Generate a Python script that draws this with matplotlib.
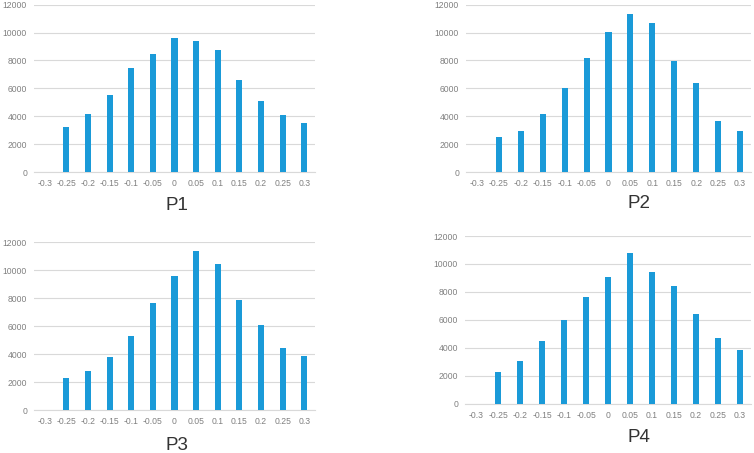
import matplotlib
matplotlib.use("Agg")
import matplotlib.pyplot as plt

plt.rcParams['font.family'] = ['Liberation Sans', 'DejaVu Sans']

categories = ["-0.3", "-0.25", "-0.2", "-0.15", "-0.1", "-0.05", "0", "0.05", "0.1", "0.15", "0.2", "0.25", "0.3"]
p1 = [0, 3250, 4150, 5550, 7480, 8480, 9630, 9370, 8740, 6590, 5110, 4090, 3540]
p2 = [0, 2490, 2940, 4130, 6040, 8190, 10040, 11350, 10660, 7930, 6350, 3660, 2940]
p3 = [0, 2320, 2820, 3820, 5320, 7660, 9610, 11350, 10470, 7870, 6060, 4460, 3840]
p4 = [0, 2240, 3050, 4480, 5960, 7660, 9090, 10800, 9420, 8420, 6390, 4700, 3820]
titles = ["P1", "P2", "P3", "P4"]
yticks = [0, 2000, 4000, 6000, 8000, 10000, 12000]

W, H = 754, 453
fig = plt.figure(figsize=(W / 100, H / 100), dpi=100)

# pixel boxes: left, right, top(12000), bottom(0)
boxes = [
    (34, 315, 4.7, 172),
    (466, 751, 4.7, 172),
    (34, 315, 242.3, 410),
    (465, 751, 236, 403.7),
]
title_pos = [(177, 205), (639, 203), (177, 445), (639, 438)]
series = [p1, p2, p3, p4]

bar_color = "#1a9ad8"
grid_color = "#d9d9d9"
text_color = "#808080"

for (l, r, t, b), vals, ttl, (tx, ty) in zip(boxes, series, titles, title_pos):
    ax = fig.add_axes([l / W, 1 - b / H, (r - l) / W, (b - t) / H])
    x = list(range(len(categories)))
    ax.bar(x, vals, width=0.28, color=bar_color, zorder=3)
    ax.set_xlim(-0.5, len(categories) - 0.5)
    ax.set_ylim(0, 12000)
    ax.set_yticks(yticks)
    ax.set_yticklabels([str(v) for v in yticks])
    ax.set_xticks(x)
    ax.set_xticklabels(categories)
    ax.tick_params(axis="both", length=0, labelsize=6.2, colors=text_color)
    ax.tick_params(axis="y", pad=5)
    ax.tick_params(axis="x", pad=5)
    ax.grid(axis="y", color=grid_color, linewidth=0.8, zorder=0)
    ax.set_axisbelow(True)
    for s in ["top", "right", "left"]:
        ax.spines[s].set_visible(False)
    ax.spines["bottom"].set_color(grid_color)
    ax.spines["bottom"].set_linewidth(0.8)
    ax.set_facecolor("white")
    fig.text(tx / W, 1 - ty / H, ttl, ha="center", va="center", fontsize=13.5, color="#333333")

fig.savefig("out.png", dpi=100, facecolor="white")
